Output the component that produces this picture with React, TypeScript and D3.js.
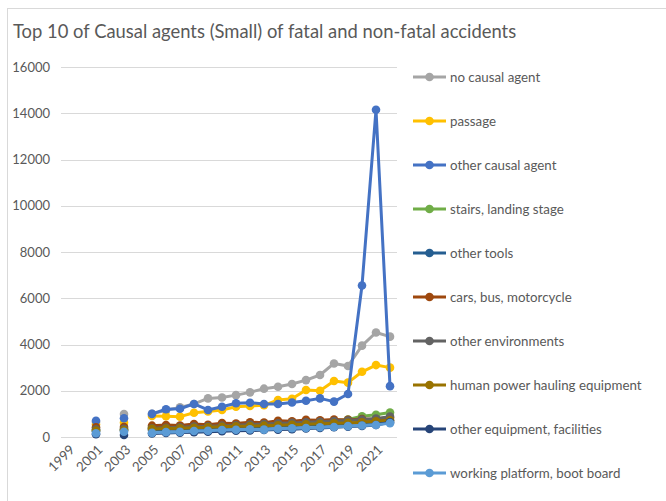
import * as d3 from 'd3';
import { useEffect, useRef } from 'react';

const years = d3.range(1999, 2023).map(String);
const yTicks = [0, 2000, 4000, 6000, 8000, 10000, 12000, 14000, 16000];

const seriesNames = [
  'no causal agent',
  'passage',
  'other causal agent',
  'stairs, landing stage',
  'other tools',
  'cars, bus, motorcycle',
  'other environments',
  'human power hauling equipment',
  'other equipment, facilities',
  'working platform, boot board',
];
const seriesColors = ['#A5A5A5', '#FFC000', '#4472C4', '#70AD47', '#255E91', '#9E480E', '#636363', '#997300', '#264478', '#5B9BD5'];

// 1999 .. 2022, null = no data
const noCausalAgent = [null, null, 650, null, 990, null, 1000, 1150, 1280, 1430, 1670, 1710, 1810, 1930, 2090, 2170, 2290, 2460, 2680, 3180, 3070, 3950, 4520, 4340];
const passage = [null, null, 540, null, 620, null, 910, 900, 880, 1050, 1100, 1170, 1310, 1340, 1370, 1600, 1650, 2030, 2000, 2420, 2350, 2820, 3110, 3000];
const otherCausalAgent = [null, null, 700, null, 810, null, 1000, 1200, 1220, 1430, 1170, 1310, 1460, 1480, 1430, 1430, 1490, 1570, 1670, 1530, 1860, 6550, 14150, 2200];
const stairs = [null, null, 300, null, 320, null, 420, 440, 450, 480, 470, 500, 540, 560, 580, 610, 630, 650, 680, 700, 760, 900, 960, 1060];
const otherTools = [null, null, 250, null, 280, null, 300, 330, 340, 370, 380, 400, 430, 440, 450, 480, 500, 520, 540, 560, 590, 620, 650, 700];
const cars = [null, null, 420, null, 430, null, 490, 520, 500, 560, 530, 600, 580, 640, 620, 700, 680, 740, 720, 760, 740, 780, 760, 830];
const otherEnvironments = [null, null, 330, null, 350, null, 380, 400, 420, 450, 460, 490, 510, 540, 560, 590, 610, 640, 660, 690, 710, 760, 800, 880];
const humanPower = [null, null, 280, null, 300, null, 350, 370, 380, 400, 420, 440, 460, 470, 490, 510, 530, 550, 570, 590, 610, 640, 680, 720];
const otherEquipment = [null, null, 120, null, 90, null, 150, 170, 190, 210, 230, 250, 270, 280, 300, 320, 340, 370, 390, 420, 450, 480, 520, 640];
const workingPlatform = [null, null, 160, null, 230, null, 180, 210, 220, 260, 270, 300, 310, 330, 320, 360, 380, 390, 420, 430, 470, 500, 520, 600];

const seriesValues = [noCausalAgent, passage, otherCausalAgent, stairs, otherTools, cars, otherEnvironments, humanPower, otherEquipment, workingPlatform];

const App = () => {
  const ref = useRef<SVGSVGElement>(null);

  useEffect(() => {
    const svg = d3.select(ref.current);
    svg.selectAll('*').remove();

    const width = 666;
    const height = 501;
    const margin = { top: 67, right: 269, bottom: 64, left: 61 };
    const font = 'Lato, "Open Sans", sans-serif';
    const textColor = '#595959';

    // frame
    svg.append('rect')
      .attr('x', 7.5).attr('y', 8.5)
      .attr('width', 700).attr('height', 520)
      .attr('fill', 'white').attr('stroke', '#D9D9D9');

    svg.append('text')
      .attr('x', 13).attr('y', 38)
      .attr('font-family', font)
      .attr('font-size', 18.4)
      .attr('fill', textColor)
      .text('Top 10 of Causal agents (Small) of fatal and non-fatal accidents');

    const x = d3.scaleBand().domain(years).range([margin.left, width - margin.right]);
    const y = d3.scaleLinear().domain([0, 16000]).range([height - margin.bottom, margin.top]);

    // grid
    svg.append('g')
      .selectAll('line')
      .data(yTicks)
      .enter()
      .append('line')
      .attr('x1', margin.left).attr('x2', width - margin.right)
      .attr('y1', d => Math.round(y(d)) + 0.5).attr('y2', d => Math.round(y(d)) + 0.5)
      .attr('stroke', '#D9D9D9').attr('stroke-width', 1);

    // y labels
    svg.append('g')
      .selectAll('text')
      .data(yTicks)
      .enter()
      .append('text')
      .attr('x', 50).attr('y', d => y(d) + 4.5)
      .attr('text-anchor', 'end')
      .attr('font-family', font).attr('font-size', 13)
      .attr('fill', textColor)
      .text(d => d);

    // x labels, every second year
    svg.append('g')
      .selectAll('text')
      .data(years.filter((_, i) => i % 2 === 0))
      .enter()
      .append('text')
      .attr('transform', d => `translate(${x(d)! + x.bandwidth() / 2 + 1}, ${height - margin.bottom + 7}) rotate(-45)`)
      .attr('text-anchor', 'end')
      .attr('dy', '0.7em')
      .attr('font-family', font).attr('font-size', 13.3)
      .attr('fill', textColor)
      .text(d => d);

    const cx = (i: number) => x(years[i])! + x.bandwidth() / 2;
    const line = d3.line<number | null>()
      .defined(d => d != null)
      .x((_, i) => cx(i))
      .y(d => y(d as number));

    seriesValues.forEach((vals, s) => {
      const g = svg.append('g');
      g.append('path')
        .attr('d', line(vals))
        .attr('fill', 'none')
        .attr('stroke', seriesColors[s])
        .attr('stroke-width', 3)
        .attr('stroke-linejoin', 'round');
      g.selectAll('circle')
        .data(vals.map((v, i) => ({ v, i })).filter(d => d.v != null))
        .enter()
        .append('circle')
        .attr('cx', d => cx(d.i))
        .attr('cy', d => y(d.v as number))
        .attr('r', 4.3)
        .attr('fill', seriesColors[s]);
    });

    // legend
    const legend = svg.append('g').attr('transform', 'translate(413, 77)');
    seriesNames.forEach((name, i) => {
      const item = legend.append('g').attr('transform', `translate(0, ${i * 44})`);
      item.append('line')
        .attr('x1', 0).attr('x2', 33)
        .attr('stroke', seriesColors[i]).attr('stroke-width', 3);
      item.append('circle').attr('cx', 16.5).attr('r', 4.3).attr('fill', seriesColors[i]);
      item.append('text')
        .attr('x', 37).attr('y', 4.5)
        .attr('font-family', font).attr('font-size', 13.3)
        .attr('fill', textColor)
        .text(name);
    });
  }, []);

  return (
    <svg ref={ref} width={666} height={501} style={{ position: 'absolute', left: 0, top: 0 }} />
  );
};

export default App;
